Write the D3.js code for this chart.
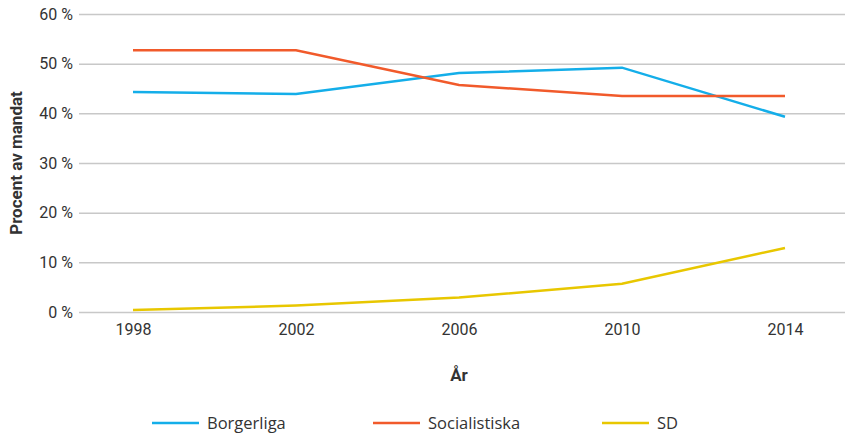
<!DOCTYPE html>
<html>
<head>
<meta charset="utf-8">
<script src="https://cdn.jsdelivr.net/npm/d3@7"></script>
<style>
  body { margin: 0; background: #fff; }
  text { font-family: Roboto, "Open Sans", sans-serif; fill: #333; }
</style>
</head>
<body>
<svg></svg>
<script>
const width = 845;
const height = 435;

// DATA
const years = ["1998", "2002", "2006", "2010", "2014"];
const borgerliga = [44.3, 43.9, 48.1, 49.2, 39.3];
const socialistiska = [52.7, 52.7, 45.7, 43.5, 43.5];
const sd = [0.4, 1.3, 2.9, 5.7, 12.9];
const yTicks = [0, 10, 20, 30, 40, 50, 60];

const series = [
  { name: "Borgerliga", values: borgerliga, color: "#14aee9" },
  { name: "Socialistiska", values: socialistiska, color: "#f15a2b" },
  { name: "SD", values: sd, color: "#e8c700" }
];

const svg = d3.select("svg")
  .attr("width", width)
  .attr("height", height);

// SCALES
const xScale = d3.scalePoint()
  .domain(years)
  .range([133, 785]);

const yScale = d3.scaleLinear()
  .domain([0, 60])
  .range([312, 14]);

// GRID + Y LABELS
const yAxis = d3.axisLeft(yScale)
  .tickValues(yTicks)
  .tickSize(-(845 - 79))
  .tickPadding(6)
  .tickFormat(d => d + " %");

svg.append("g")
  .attr("transform", "translate(79, 0)")
  .call(yAxis)
  .call(g => g.select(".domain").remove())
  .call(g => g.selectAll("line").attr("stroke", "#c8c8c8").attr("stroke-width", 1.5))
  .call(g => g.selectAll("text").style("font-size", "16px").attr("fill", "#333"));

// X LABELS
const xAxis = d3.axisBottom(xScale)
  .tickSize(0)
  .tickPadding(12);

svg.append("g")
  .attr("transform", "translate(0, 312)")
  .call(xAxis)
  .call(g => g.select(".domain").remove())
  .call(g => g.selectAll("text").style("font-size", "16px").attr("fill", "#333"));

// LINES
const line = d3.line()
  .x((d, i) => xScale(years[i]))
  .y(d => yScale(d));

svg.selectAll("path.series")
  .data(series)
  .enter()
  .append("path")
    .attr("class", "series")
    .attr("d", d => line(d.values))
    .attr("fill", "none")
    .attr("stroke", d => d.color)
    .attr("stroke-width", 2.5);

// AXIS TITLES
svg.append("text")
  .attr("x", xScale("2006"))
  .attr("y", 381)
  .style("text-anchor", "middle")
  .style("font-size", "17px")
  .style("font-weight", "bold")
  .text("År");

svg.append("text")
  .attr("transform", "rotate(-90)")
  .attr("x", -163)
  .attr("y", 22)
  .style("text-anchor", "middle")
  .style("font-size", "17px")
  .style("font-weight", "bold")
  .text("Procent av mandat");

// LEGEND
const legendX = [152, 373, 602];
const legend = svg.selectAll("g.legend")
  .data(series)
  .enter()
  .append("g")
    .attr("class", "legend")
    .attr("transform", (d, i) => `translate(${legendX[i]}, 423)`);

legend.append("line")
  .attr("x1", 0)
  .attr("x2", 47)
  .attr("stroke", d => d.color)
  .attr("stroke-width", 2.5);

legend.append("text")
  .attr("x", 55)
  .attr("dy", "0.35em")
  .style("font-family", "'Open Sans', sans-serif")
  .style("font-size", "16.5px")
  .text(d => d.name);
</script>
</body>
</html>
